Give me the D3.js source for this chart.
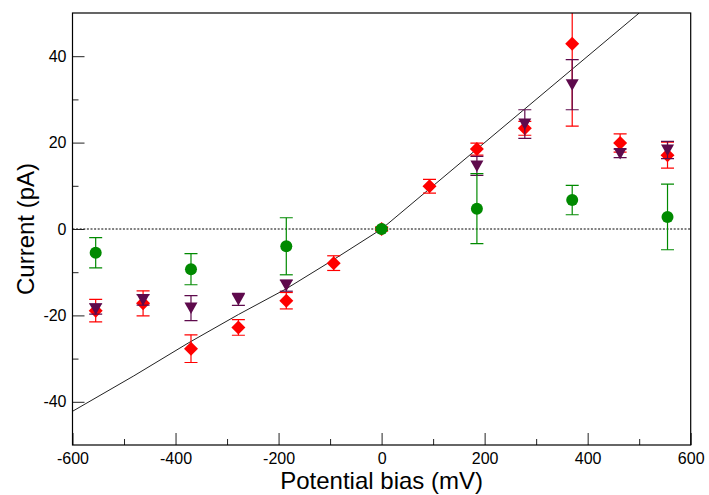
<!DOCTYPE html>
<html>
<head>
<meta charset="utf-8">
<script src="https://cdn.jsdelivr.net/npm/d3@7"></script>
<style>
  html, body { margin: 0; padding: 0; background: #fff; }
  svg { display: block; font-family: "Liberation Sans", Arial, Helvetica, sans-serif; }
</style>
</head>
<body>
<div id="chart"></div>
<script>
// Potential bias values (mV) for each series
const redX = [-555, -463, -370, -278, -185, -93, 0, 93, 185, 278, 370, 463, 555];
const redY = [-18.9, -17.2, -27.7, -22.8, -16.6, -7.9, 0, 9.9, 18.5, 23.3, 42.9, 19.9, 17.1];
const redErr = [2.6, 2.9, 3.2, 1.8, 1.9, 1.7, 0.5, 1.6, 1.4, 1.6, 19.1, 2.1, 3.0];

const purpleX = [-555, -463, -370, -278, -185, 185, 278, 370, 463, 555];
const purpleY = [-18.5, -16.4, -18.3, -16.3, -13.1, 14.6, 24.3, 33.4, 17.5, 18.3];
const purpleErr = [1.2, 1.2, 2.9, 1.4, 1.3, 2.2, 3.3, 5.8, 1.0, 2.0];

const greenX = [-555, -370, -185, 0, 185, 370, 555];
const greenY = [-5.5, -9.3, -4.0, 0, 4.7, 6.7, 2.8];
const greenErr = [3.5, 3.6, 6.6, 0.3, 8.1, 3.4, 7.6];

// Fit curve through the origin
const fitX = [-600, -481, -374, -278, -186, -96, 0, 93, 185, 278, 370, 500];
const fitY = [-42.2, -34.0, -26.3, -19.8, -13.9, -7.3, 0, 9.3, 18.5, 27.8, 37.0, 50];

// Tick values
const xMajorTicks = [-600, -400, -200, 0, 200, 400, 600];
const xMinorTicks = [-500, -300, -100, 100, 300, 500];
const yMajorTicks = [-40, -20, 0, 20, 40];
const yMinorTicks = [-30, -10, 10, 30];

const width = 709, height = 495;
const margin = { left: 72.5, top: 13, right: 18.3, bottom: 50 };

const svg = d3.select("#chart").append("svg")
  .attr("width", width)
  .attr("height", height);

const x = d3.scaleLinear().domain([-600, 600]).range([margin.left, width - margin.right]);
const y = d3.scaleLinear().domain([-50, 50]).range([height - margin.bottom, margin.top]);

// Clip everything to the plot box
svg.append("clipPath").attr("id", "plotClip")
  .append("rect")
  .attr("x", x(-600)).attr("y", y(50))
  .attr("width", x(600) - x(-600)).attr("height", y(-50) - y(50));

const plot = svg.append("g").attr("clip-path", "url(#plotClip)");

// Dotted zero line
plot.append("line")
  .attr("x1", x(-600)).attr("x2", x(600))
  .attr("y1", y(0)).attr("y2", y(0))
  .attr("stroke", "#000")
  .attr("stroke-width", 1)
  .attr("stroke-dasharray", "2,1.6");

// Fit line
plot.append("path")
  .datum(d3.zip(fitX, fitY))
  .attr("fill", "none")
  .attr("stroke", "#222")
  .attr("stroke-width", 1)
  .attr("d", d3.line().x(d => x(d[0])).y(d => y(d[1])));

// Marker shapes
const diamond = "M0,-7L7,0L0,7L-7,0Z";
const triangleDown = "M-6.5,-5.5L6.5,-5.5L0,6Z";

function drawSeries(xs, ys, errs, color, shape) {
  const data = d3.zip(xs, ys, errs);
  const g = plot.append("g");
  const capHalf = 6.5;

  // Error bars
  const eb = g.selectAll(".eb").data(data).enter().append("g")
    .attr("stroke", color)
    .attr("stroke-width", 1.2);
  eb.append("line")
    .attr("x1", d => x(d[0])).attr("x2", d => x(d[0]))
    .attr("y1", d => y(d[1] - d[2])).attr("y2", d => y(d[1] + d[2]));
  eb.append("line")
    .attr("x1", d => x(d[0]) - capHalf).attr("x2", d => x(d[0]) + capHalf)
    .attr("y1", d => y(d[1] + d[2])).attr("y2", d => y(d[1] + d[2]));
  eb.append("line")
    .attr("x1", d => x(d[0]) - capHalf).attr("x2", d => x(d[0]) + capHalf)
    .attr("y1", d => y(d[1] - d[2])).attr("y2", d => y(d[1] - d[2]));

  // Markers
  if (shape === "circle") {
    g.selectAll(".m").data(data).enter().append("circle")
      .attr("cx", d => x(d[0])).attr("cy", d => y(d[1]))
      .attr("r", 6)
      .attr("fill", color);
  } else {
    g.selectAll(".m").data(data).enter().append("path")
      .attr("d", shape)
      .attr("transform", d => `translate(${x(d[0])},${y(d[1])})`)
      .attr("fill", color);
  }
}

drawSeries(redX, redY, redErr, "#ff0000", diamond);
drawSeries(purpleX, purpleY, purpleErr, "#5e0a4c", triangleDown);
drawSeries(greenX, greenY, greenErr, "#008a00", "circle");

// Axes with inward ticks
const fmt = d => String(d);
const xAxis = svg.append("g")
  .attr("transform", `translate(0,${y(-50)})`)
  .call(d3.axisBottom(x).tickValues(xMajorTicks).tickSizeInner(-12).tickSizeOuter(0).tickPadding(8).tickFormat(fmt));
svg.append("g")
  .attr("transform", `translate(0,${y(-50)})`)
  .call(d3.axisBottom(x).tickValues(xMinorTicks).tickSizeInner(-6).tickSizeOuter(0).tickFormat(""));

const yAxis = svg.append("g")
  .attr("transform", `translate(${x(-600)},0)`)
  .call(d3.axisLeft(y).tickValues(yMajorTicks).tickSizeInner(-12).tickSizeOuter(0).tickPadding(6).tickFormat(fmt));
svg.append("g")
  .attr("transform", `translate(${x(-600)},0)`)
  .call(d3.axisLeft(y).tickValues(yMinorTicks).tickSizeInner(-6).tickSizeOuter(0).tickFormat(""));

svg.selectAll(".domain").remove();
svg.selectAll(".tick line").attr("stroke", "#222").attr("stroke-width", 1);
svg.selectAll(".tick text")
  .attr("font-family", "'Liberation Sans', Arial, Helvetica, sans-serif")
  .attr("font-size", 16)
  .attr("fill", "#000");

// Frame
svg.append("rect")
  .attr("x", x(-600)).attr("y", y(50))
  .attr("width", x(600) - x(-600)).attr("height", y(-50) - y(50))
  .attr("fill", "none")
  .attr("stroke", "#000")
  .attr("stroke-width", 1.2);

// Axis titles
svg.append("text")
  .attr("x", x(0))
  .attr("y", 488.5)
  .attr("text-anchor", "middle")
  .attr("font-size", 24)
  .text("Potential bias (mV)");

svg.append("text")
  .attr("transform", `translate(33.5,${y(0)}) rotate(-90)`)
  .attr("text-anchor", "middle")
  .attr("font-size", 24)
  .text("Current (pA)");
</script>
</body>
</html>
